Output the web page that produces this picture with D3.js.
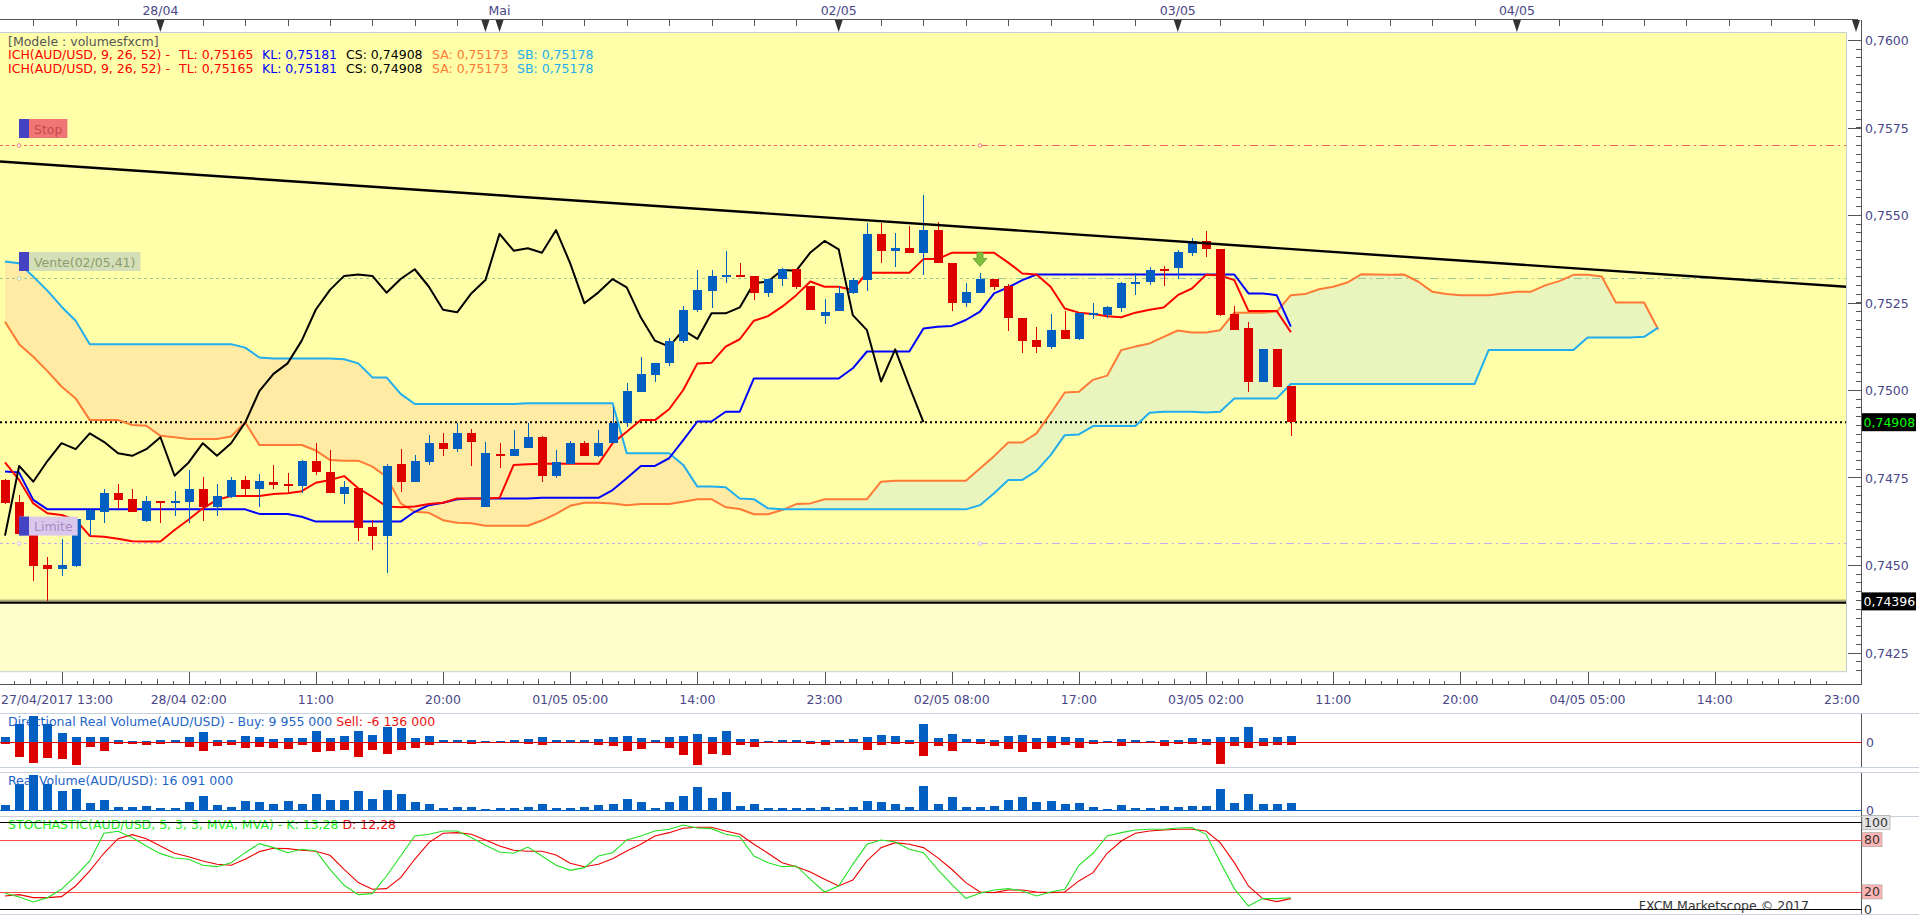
<!DOCTYPE html>
<html>
<head>
<meta charset="utf-8">
<script src="https://cdn.jsdelivr.net/npm/d3@7"></script>
<style>
  body { margin: 0; background: #fff; overflow: hidden; }
  svg { display: block; }
  text { font-family: "DejaVu Sans", sans-serif; font-size: 12.5px; }
</style>
</head>
<body>
<svg id="chart" width="1919" height="916"></svg>
<script>
// ---- candles (hourly, AUD/USD) ----
const open = [0.74743,0.74680,0.74588,0.74499,0.74488,0.74498,0.74630,0.74652,0.74707,0.74689,
  0.74627,0.74683,0.74678,0.74681,0.74717,0.74667,0.74695,0.74743,0.74717,0.74737,
  0.74731,0.74727,0.74797,0.74767,0.74703,0.74720,0.74609,0.74584,0.74788,0.74738,
  0.74795,0.74848,0.74831,0.74876,0.74667,0.74816,0.74812,0.74833,0.74865,0.74755,
  0.74790,0.74848,0.74812,0.74848,0.74907,0.74995,0.75044,0.75076,0.75141,0.75229,
  0.75284,0.75324,0.75330,0.75327,0.75278,0.75317,0.75345,0.75297,0.75212,0.75227,
  0.75276,0.75314,0.75446,0.75398,0.75405,0.75392,0.75457,0.75362,0.75250,0.75278,
  0.75317,0.75297,0.75207,0.75143,0.75124,0.75171,0.75146,0.75215,0.75214,0.75233,
  0.75302,0.75310,0.75345,0.75350,0.75392,0.75427,0.75402,0.75216,0.75176,0.75024,
  0.75116,0.75011];
const high = [0.74745,0.74699,0.74600,0.74524,0.74574,0.74631,0.74662,0.74717,0.74731,0.74717,
  0.74697,0.74683,0.74711,0.74771,0.74752,0.74731,0.74752,0.74754,0.74760,0.74786,
  0.74764,0.74800,0.74850,0.74829,0.74740,0.74720,0.74629,0.74790,0.74831,0.74814,
  0.74871,0.74876,0.74905,0.74888,0.74852,0.74848,0.74886,0.74905,0.74869,0.74829,
  0.74854,0.74854,0.74887,0.74952,0.75019,0.75095,0.75076,0.75150,0.75240,0.75343,
  0.75343,0.75397,0.75362,0.75327,0.75317,0.75348,0.75345,0.75297,0.75260,0.75297,
  0.75319,0.75478,0.75478,0.75450,0.75469,0.75557,0.75481,0.75362,0.75305,0.75333,
  0.75317,0.75303,0.75207,0.75181,0.75217,0.75226,0.75219,0.75250,0.75240,0.75308,
  0.75333,0.75352,0.75354,0.75400,0.75433,0.75454,0.75402,0.75240,0.75193,0.75116,
  0.75116,0.75011];
const low = [0.74674,0.74588,0.74455,0.74396,0.74469,0.74495,0.74583,0.74621,0.74659,0.74652,
  0.74624,0.74621,0.74640,0.74621,0.74627,0.74640,0.74692,0.74697,0.74665,0.74717,
  0.74705,0.74707,0.74757,0.74707,0.74673,0.74570,0.74543,0.74477,0.74710,0.74738,
  0.74786,0.74811,0.74824,0.74783,0.74667,0.74776,0.74812,0.74833,0.74738,0.74750,
  0.74790,0.74812,0.74810,0.74848,0.74895,0.74995,0.75024,0.75070,0.75135,0.75224,
  0.75235,0.75305,0.75322,0.75257,0.75267,0.75297,0.75289,0.75229,0.75189,0.75227,
  0.75273,0.75284,0.75364,0.75352,0.75392,0.75330,0.75362,0.75227,0.75238,0.75278,
  0.75287,0.75170,0.75107,0.75105,0.75116,0.75146,0.75143,0.75202,0.75205,0.75224,
  0.75271,0.75300,0.75297,0.75316,0.75383,0.75381,0.75211,0.75171,0.74995,0.75024,
  0.75010,0.74869];
const close = [0.74678,0.74588,0.74498,0.74488,0.74499,0.74631,0.74657,0.74707,0.74686,0.74652,
  0.74683,0.74678,0.74683,0.74717,0.74667,0.74697,0.74743,0.74717,0.74740,0.74729,
  0.74727,0.74797,0.74767,0.74707,0.74723,0.74607,0.74584,0.74783,0.74738,0.74797,
  0.74848,0.74831,0.74876,0.74852,0.74819,0.74812,0.74831,0.74865,0.74755,0.74793,
  0.74848,0.74812,0.74848,0.74907,0.74997,0.75046,0.75076,0.75141,0.75230,0.75286,
  0.75326,0.75330,0.75326,0.75278,0.75317,0.75345,0.75295,0.75229,0.75222,0.75276,
  0.75314,0.75446,0.75398,0.75405,0.75392,0.75457,0.75362,0.75248,0.75279,0.75317,
  0.75293,0.75207,0.75141,0.75124,0.75171,0.75146,0.75219,0.75219,0.75236,0.75305,
  0.75310,0.75343,0.75341,0.75393,0.75426,0.75402,0.75214,0.75171,0.75024,0.75116,
  0.75010,0.74908];

// ---- ichimoku lines, as read ----
const tenkan = [0.74793,0.74743,0.74676,0.74648,0.74643,0.74629,0.74583,0.74581,0.74575,0.74568,
  0.74567,0.74567,0.74600,0.74630,0.74662,0.74686,0.74697,0.74697,0.74697,0.74703,
  0.74705,0.74711,0.74735,0.74743,0.74754,0.74719,0.74695,0.74667,0.74665,0.74667,
  0.74674,0.74678,0.74690,0.74690,0.74690,0.74692,0.74786,0.74788,0.74789,0.74789,
  0.74789,0.74789,0.74789,0.74848,0.74881,0.74914,0.74914,0.74945,0.75000,0.75076,
  0.75078,0.75124,0.75145,0.75198,0.75211,0.75238,0.75271,0.75310,0.75295,0.75295,
  0.75286,0.75335,0.75335,0.75335,0.75335,0.75374,0.75374,0.75392,0.75392,0.75392,
  0.75392,0.75364,0.75333,0.75330,0.75295,0.75233,0.75221,0.75217,0.75211,0.75208,
  0.75221,0.75229,0.75236,0.75271,0.75290,0.75329,0.75327,0.75314,0.75226,0.75226,
  0.75226,0.75165];
const kijun = [0.74767,0.74764,0.74686,0.74659,0.74659,0.74659,0.74659,0.74659,0.74659,0.74659,
  0.74659,0.74659,0.74659,0.74659,0.74659,0.74659,0.74659,0.74659,0.74646,0.74646,
  0.74646,0.74638,0.74624,0.74624,0.74624,0.74624,0.74624,0.74624,0.74624,0.74652,
  0.74671,0.74678,0.74688,0.74690,0.74690,0.74690,0.74690,0.74690,0.74692,0.74692,
  0.74692,0.74692,0.74692,0.74714,0.74748,0.74783,0.74783,0.74805,0.74857,0.74910,
  0.74910,0.74938,0.74938,0.75033,0.75033,0.75033,0.75033,0.75033,0.75033,0.75033,
  0.75062,0.75110,0.75110,0.75110,0.75110,0.75176,0.75181,0.75183,0.75200,0.75224,
  0.75276,0.75293,0.75314,0.75330,0.75330,0.75330,0.75330,0.75330,0.75330,0.75330,
  0.75330,0.75330,0.75330,0.75330,0.75330,0.75330,0.75330,0.75330,0.75276,0.75276,
  0.75271,0.75181];
const senkouA = [0.75195,0.75131,0.75095,0.75054,0.75010,0.74976,0.74914,0.74914,0.74914,0.74900,
  0.74898,0.74869,0.74865,0.74860,0.74860,0.74860,0.74867,0.74907,0.74843,0.74843,
  0.74843,0.74843,0.74827,0.74800,0.74798,0.74798,0.74781,0.74752,0.74676,0.74652,
  0.74649,0.74628,0.74621,0.74619,0.74612,0.74612,0.74612,0.74612,0.74627,0.74646,
  0.74669,0.74678,0.74678,0.74676,0.74671,0.74674,0.74674,0.74674,0.74681,0.74688,
  0.74688,0.74665,0.74660,0.74645,0.74645,0.74657,0.74674,0.74676,0.74688,0.74688,
  0.74688,0.74688,0.74738,0.74741,0.74741,0.74741,0.74741,0.74741,0.74741,0.74776,
  0.74811,0.74850,0.74850,0.74876,0.74933,0.74993,0.74995,0.75029,0.75041,0.75114,
  0.75124,0.75133,0.75152,0.75170,0.75164,0.75164,0.75171,0.75221,0.75221,0.75221,
  0.75224,0.75271,0.75274,0.75288,0.75295,0.75307,0.75331,0.75330,0.75329,0.75330,
  0.75310,0.75281,0.75274,0.75271,0.75271,0.75271,0.75276,0.75281,0.75281,0.75299,
  0.75311,0.75329,0.75329,0.75324,0.75250,0.75250,0.75250,0.75173];
const senkouB = [0.75367,0.75362,0.75324,0.75284,0.75238,0.75198,0.75131,0.75131,0.75131,0.75131,
  0.75131,0.75131,0.75131,0.75131,0.75131,0.75131,0.75131,0.75121,0.75093,0.75090,
  0.75090,0.75090,0.75090,0.75090,0.75088,0.75076,0.75036,0.75036,0.74989,0.74960,
  0.74960,0.74960,0.74960,0.74960,0.74960,0.74960,0.74960,0.74962,0.74962,0.74962,
  0.74962,0.74962,0.74962,0.74962,0.74819,0.74819,0.74819,0.74819,0.74786,0.74724,
  0.74724,0.74722,0.74690,0.74688,0.74662,0.74659,0.74659,0.74659,0.74659,0.74659,
  0.74659,0.74659,0.74659,0.74659,0.74659,0.74659,0.74659,0.74659,0.74659,0.74671,
  0.74705,0.74743,0.74743,0.74769,0.74814,0.74871,0.74873,0.74897,0.74897,0.74897,
  0.74897,0.74935,0.74938,0.74938,0.74938,0.74936,0.74938,0.74976,0.74976,0.74976,
  0.74976,0.75017,0.75017,0.75017,0.75017,0.75017,0.75017,0.75017,0.75017,0.75017,
  0.75017,0.75017,0.75017,0.75017,0.75017,0.75114,0.75114,0.75114,0.75114,0.75114,
  0.75114,0.75114,0.75150,0.75150,0.75150,0.75150,0.75152,0.75178];
const chikouLag = 26;

// ---- volumes, millions ----
const buyVol = [8.4,29.3,41.4,29.3,14.7,8.4,8.4,8.4,3.7,2.1,2.1,3.7,3.7,8.4,16.2,3.7,3.7,10.0,8.4,5.2,
  6.8,6.8,17.8,6.8,10.0,17.8,11.5,24.1,22.5,6.8,10.0,3.7,3.7,3.7,1.6,1.6,3.7,
  5.2,8.4,3.7,3.7,3.7,5.2,8.4,10.0,6.8,3.7,8.4,10.0,13.1,8.4,17.8,5.2,5.2,1.6,3.7,3.7,
  1.6,3.7,3.7,5.2,8.4,11.5,10.0,3.7,28.8,6.8,13.1,5.2,5.2,3.7,10.0,11.5,6.8,
  10.0,8.4,6.8,3.7,1.6,5.2,3.7,1.6,3.7,3.7,6.8,5.2,8.4,8.4,24.1,6.8,8.4,9.955];
const sellVol = [2.1,22.5,32.0,24.6,25.7,35.6,6.8,13.6,2.1,2.1,3.7,2.1,0.5,6.8,13.6,5.2,3.7,8.4,6.8,8.4,
  10.0,3.7,14.7,13.6,11.5,22.5,11.5,17.8,11.5,8.4,3.7,0,0,2.1,0,0,0,
  2.1,3.7,0,0,0,3.7,5.2,13.1,10.0,0,8.4,19.4,35.1,17.8,19.4,3.7,6.8,0,0,0,
  2.1,3.7,0,0,11.5,3.7,2.1,2.1,21.0,5.2,13.1,0,2.1,5.2,10.0,14.7,10.0,
  8.4,3.7,8.4,2.1,0,5.2,0,0,5.2,2.1,2.1,3.7,33.5,5.2,8.4,5.2,3.7,4.0];
const realVol = [12.3,60.1,80.9,60.1,44.7,49.3,16.9,23.9,7.7,7.7,10.0,5.4,5.4,19.3,33.1,12.3,7.7,21.6,19.3,14.6,
  21.6,14.6,37.7,23.9,23.9,44.7,26.2,47.0,37.7,19.3,14.6,5.4,7.7,7.7,3.1,5.4,5.4,
  7.7,14.6,5.4,5.4,7.7,12.3,14.6,26.2,19.3,5.4,19.3,33.1,53.9,28.5,42.4,10.0,14.6,5.4,5.4,5.4,
  5.4,7.7,5.4,7.7,21.6,19.3,14.6,7.7,56.2,14.6,30.8,7.7,7.7,10.0,23.9,30.8,19.3,
  21.6,14.6,16.9,7.7,3.1,12.3,5.4,5.4,10.0,7.7,10.0,10.0,49.3,16.9,37.7,14.6,14.6,16.091];

// ---- stochastic 5,3,3 ----
const stochK = [18.4,14.2,8.4,13.4,23.0,38.3,55.6,87.4,89.7,82.4,72.8,64.0,59.0,57.5,50.6,49.0,53.6,65.1,75.5,70.9,
  65.1,69.0,67.0,46.0,27.6,16.9,18.0,38.3,61.3,84.3,86.2,90.0,90.0,82.4,73.6,65.9,64.4,
  71.6,61.3,50.6,44.8,47.9,61.3,65.1,79.7,84.3,90.0,92.0,96.9,93.5,92.7,86.2,83.5,61.3,53.6,49.0,49.8,
  34.5,19.9,26.8,51.7,74.7,79.7,77.4,69.0,65.1,46.0,28.7,12.6,18.4,22.2,23.8,21.1,15.3,
  19.9,23.0,50.6,64.4,84.3,88.1,91.2,92.0,92.0,93.5,93.9,86.2,54.4,23.8,3.8,12.3,12.3,13.28];
const stochD = [15.3,16.9,13.4,13.4,14.6,26.8,44.1,64.4,81.2,85.8,81.2,72.8,64.4,60.5,55.6,51.7,50.6,57.5,66.3,70.1,
  69.7,67.8,66.7,62.1,46.0,30.7,23.0,23.8,36.4,57.5,76.6,87.4,88.1,86.2,79.7,72.8,67.8,
  66.7,66.7,62.5,52.9,49.0,51.7,58.2,67.0,74.7,84.3,88.1,93.1,94.3,94.3,90.0,86.2,74.7,64.4,53.6,49.0,
  42.9,34.5,26.8,33.7,55.6,70.9,76.6,74.7,70.9,59.4,46.0,30.7,19.9,19.2,22.2,22.2,19.9,
  19.2,19.9,32.6,42.1,64.4,78.5,87.4,90.0,91.2,92.0,92.0,90.0,76.6,53.6,26.8,12.3,8.8,12.28];

// ---- axes, orders, trendline ----
const priceTicks = [0.7600, 0.7575, 0.7550, 0.7525, 0.7500, 0.7475, 0.7450, 0.7425];
const timeLabels = ["27/04/2017 13:00","28/04 02:00","11:00","20:00","01/05 05:00","14:00","23:00",
  "02/05 08:00","17:00","03/05 02:00","11:00","20:00","04/05 05:00","14:00","23:00"];
const timeLabelBars = [0,13,22,31,40,49,58,67,76,85,94,103,112,121,130];
const dayLabels = ["28/04","Mai","02/05","03/05","04/05"];
const dayBars = [11,35,59,83,107];
const orderNames = ["Stop","Vente(02/05,41)","Limite"];
const orderPrices = [0.75700, 0.75320, 0.74564];
const orderBar = 69;
const trendBars = [-0.35, 130.3];
const trendPrices = [0.75653, 0.75295];
const stochLevels = [100, 80, 20, 0];

// ---------------------------------------------------------------
const svg = d3.select("#chart");
const defs = svg.append("defs");
const fmt = (v, n) => d3.format("." + n + "f")(v).replace(".", ",");

const PR = 1846.5, PT = 32.5, PB = 671.7, AX = 1861.5;
const x = d3.scaleLinear().domain([0, 130]).range([5, 1841.9]);
const y = d3.scaleLinear().domain([0.7425, 0.7600]).range([652.5, 40]);
const yDir = d3.scaleLinear().domain([0, 10]).range([742.3, 735.94]);
const yReal = d3.scaleLinear().domain([0, 10]).range([810.3, 805.97]);
const yStoch = d3.scaleLinear().domain([0, 100]).range([909.3, 822.3]);

const blue = "#005FC0", red = "#DD0000";
const axisText = "#4A4788";

// backgrounds
svg.append("rect").attr("width", 1919).attr("height", 916).attr("fill", "#fff");
svg.append("rect").attr("x", 0).attr("y", PT).attr("width", PR).attr("height", PB - PT).attr("fill", "#FFFFAA");
const lowY = y(d3.min(low));
svg.append("rect").attr("x", 0).attr("y", lowY).attr("width", PR).attr("height", PB - lowY).attr("fill", "#FFFFCC");

defs.append("clipPath").attr("id", "plot")
  .append("rect").attr("x", 0).attr("y", PT).attr("width", PR).attr("height", PB - PT);
const g = svg.append("g").attr("clip-path", "url(#plot)");

// cloud
const idx = d3.range(senkouA.length);
const areaTo = (arr, edge) => d3.area().x(i => x(i)).y0(edge).y1(i => y(arr[i]))(idx);
defs.append("clipPath").attr("id", "belowA").append("path").attr("d", areaTo(senkouA, 916));
defs.append("clipPath").attr("id", "belowB").append("path").attr("d", areaTo(senkouB, 916));
g.append("path").attr("d", areaTo(senkouB, 0)).attr("fill", "#EAF5BE").attr("clip-path", "url(#belowA)");
g.append("path").attr("d", areaTo(senkouA, 0)).attr("fill", "#FFEBA3").attr("clip-path", "url(#belowB)");

// order lines
const orderColors = ["#F06060", "#9CC894", "#CCA6EE"];
const xo = x(orderBar);
orderPrices.forEach((p, k) => {
  const yy = Math.round(y(p)) + 0.5;
  g.append("line").attr("x1", 0).attr("x2", xo).attr("y1", yy).attr("y2", yy)
    .attr("stroke", orderColors[k]).attr("stroke-dasharray", "3,3");
  g.append("line").attr("x1", xo).attr("x2", PR).attr("y1", yy).attr("y2", yy)
    .attr("stroke", orderColors[k]).attr("stroke-dasharray", "8,4,2,4");
  [19, xo].forEach(cx => g.append("circle").attr("cx", cx).attr("cy", yy).attr("r", 1.8)
    .attr("fill", "#fff").attr("stroke", orderColors[k]).attr("stroke-width", 0.8));
});

// current price and lowest low
g.append("line").attr("x1", 0).attr("x2", PR).attr("y1", y(close[close.length - 1])).attr("y2", y(close[close.length - 1]))
  .attr("stroke", "#000").attr("stroke-width", 2).attr("stroke-dasharray", "2,3");
g.append("line").attr("x1", 0).attr("x2", PR).attr("y1", lowY - 1.2).attr("y2", lowY - 1.2)
  .attr("stroke", "#8A8A60").attr("stroke-width", 1);
g.append("line").attr("x1", 0).attr("x2", PR).attr("y1", lowY + 1.2).attr("y2", lowY + 1.2)
  .attr("stroke", "#000").attr("stroke-width", 2.4);

// ichimoku lines
const line = d3.line().x((d, i) => x(i)).y(d => y(d));
const drawLine = (arr, color, w) => g.append("path").attr("d", line(arr)).attr("fill", "none")
  .attr("stroke", color).attr("stroke-width", w).attr("stroke-linejoin", "round");
drawLine(senkouA, "#FF7A35", 2);
drawLine(senkouB, "#22AEEE", 2);
drawLine(kijun, "#0000FF", 2);
drawLine(tenkan, "#FF0000", 2);
const chikou = d3.range(close.length - chikouLag).map(i => close[i + chikouLag]);
drawLine(chikou, "#000", 2);

// candles
const cg = g.append("g").attr("shape-rendering", "crispEdges");
close.forEach((c, i) => {
  const col = c >= open[i] ? blue : red;
  const cx = Math.round(x(i)) + 0.5;
  cg.append("line").attr("x1", cx).attr("x2", cx).attr("y1", y(high[i])).attr("y2", y(low[i]))
    .attr("stroke", col);
  const top = y(Math.max(open[i], c)), bot = y(Math.min(open[i], c));
  cg.append("rect").attr("x", cx - 4.5).attr("width", 9).attr("y", top)
    .attr("height", Math.max(bot - top, 2)).attr("fill", col);
});

// trendline
g.append("line").attr("x1", x(trendBars[0])).attr("y1", y(trendPrices[0]))
  .attr("x2", x(trendBars[1])).attr("y2", y(trendPrices[1]))
  .attr("stroke", "#000").attr("stroke-width", 2.4);

// sell signal arrow
const ay = y(high[orderBar]) - 21, ax = x(orderBar);
g.append("path")
  .attr("d", `M${ax - 3},${ay} h6 v6 h4 l-7,8 l-7,-8 h4 Z`)
  .attr("fill", "#7DBE3C").attr("stroke", "#5E9A2A").attr("stroke-width", 0.8);

// order labels
const orderFill = ["#F07676", "#D4DFB8", "#DAC8EC"];
const orderText = ["#C84A4A", "#8C9C6C", "#A78BC4"];
orderPrices.forEach((p, k) => {
  const yy = y(p) - 26;
  const lg = svg.append("g");
  const t = lg.append("text").attr("x", 34).attr("y", yy + 14.5).attr("fill", orderText[k]).text(orderNames[k]);
  const w = t.node().getComputedTextLength();
  lg.insert("rect", "text").attr("x", 19).attr("y", yy).attr("width", w + 20).attr("height", 19).attr("fill", orderFill[k]);
  lg.insert("rect", "text").attr("x", 19).attr("y", yy).attr("width", 10).attr("height", 19).attr("fill", "#4343C4");
});

// legend
svg.append("text").attr("x", 8).attr("y", 45.5).attr("fill", "#555").text("[Modele : volumesfxcm]");
const legendParts = [
  ["ICH(AUD/USD, 9, 26, 52) -", "#FF0000", 8],
  ["TL: " + fmt(tenkan[tenkan.length - 1], 5), "#FF0000", 179],
  ["KL: " + fmt(kijun[kijun.length - 1], 5), "#0000FF", 262],
  ["CS: " + fmt(close[close.length - 1], 5), "#000", 346],
  ["SA: " + fmt(senkouA[senkouA.length - 1], 5), "#FF7A35", 432],
  ["SB: " + fmt(senkouB[senkouB.length - 1], 5), "#22AEEE", 517]
];
[58.5, 72.5].forEach(by => legendParts.forEach(([t, c, lx]) =>
  svg.append("text").attr("x", lx).attr("y", by).attr("fill", c).text(t)));

// plot border
svg.append("line").attr("x1", 0).attr("x2", PR).attr("y1", PT).attr("y2", PT).attr("stroke", "#C4CED8");
svg.append("line").attr("x1", PR).attr("x2", PR).attr("y1", PT).attr("y2", PB).attr("stroke", "#C4CED8");
svg.append("line").attr("x1", 0).attr("x2", PR).attr("y1", PB).attr("y2", PB).attr("stroke", "#C4CED8");

// top time axis
const ax1 = svg.append("g").attr("shape-rendering", "crispEdges");
ax1.append("line").attr("x1", 0).attr("x2", 1858).attr("y1", 19.5).attr("y2", 19.5).attr("stroke", "#555");
d3.range(2, 131, 3).forEach(b => ax1.append("line").attr("x1", Math.round(x(b)) + 0.5).attr("x2", Math.round(x(b)) + 0.5)
  .attr("y1", 19.5).attr("y2", 25.5).attr("stroke", "#555"));
dayBars.concat([34, 131]).forEach(b => svg.append("path")
  .attr("d", `M${x(b) - 4},20 L${x(b) + 4},20 L${x(b)},32 Z`).attr("fill", "#333"));
dayLabels.forEach((t, k) => svg.append("text").attr("x", x(dayBars[k])).attr("y", 14.5)
  .attr("text-anchor", "middle").attr("fill", axisText).text(t));

// right price axis
const ax2 = svg.append("g").attr("shape-rendering", "crispEdges");
ax2.append("line").attr("x1", AX).attr("x2", AX).attr("y1", 19.5).attr("y2", 684.5).attr("stroke", "#555");
d3.range(0, 80).map(k => 0.7415 + k * 0.00025).filter(p => y(p) > PT && y(p) < PB)
  .forEach(p => ax2.append("line").attr("x1", AX - 6).attr("x2", AX).attr("y1", Math.round(y(p)) + 0.5)
    .attr("y2", Math.round(y(p)) + 0.5).attr("stroke", "#555"));
priceTicks.forEach(p => {
  ax2.append("line").attr("x1", AX - 14).attr("x2", AX).attr("y1", Math.round(y(p)) + 0.5)
    .attr("y2", Math.round(y(p)) + 0.5).attr("stroke", "#555");
  svg.append("text").attr("x", 1865).attr("y", y(p) + 5).attr("fill", axisText).text(fmt(p, 4));
});
[[close[close.length - 1], "#00FF00"], [d3.min(low), "#fff"]].forEach(([p, tc]) => {
  svg.append("rect").attr("x", 1862).attr("y", y(p) - 9).attr("width", 54).attr("height", 18).attr("fill", "#000");
  svg.append("text").attr("x", 1863.5).attr("y", y(p) + 4.8).attr("fill", tc).text(fmt(p, 5));
});

// bottom time axis
const ax3 = svg.append("g").attr("shape-rendering", "crispEdges");
ax3.append("line").attr("x1", 0).attr("x2", AX).attr("y1", 684.5).attr("y2", 684.5).attr("stroke", "#555");
d3.range(0, 120).forEach(k => {
  const b = -5 + k * 9 / 8, xx = Math.round(x(b)) + 0.5;
  if (xx < 0 || xx > PR) return;
  const hgt = k % 8 === 0 ? 13 : (k % 2 === 0 ? 6 : 3.5);
  ax3.append("line").attr("x1", xx).attr("x2", xx).attr("y1", 684.5 - hgt).attr("y2", 684.5).attr("stroke", "#555");
});
timeLabels.forEach((t, k) => svg.append("text")
  .attr("x", k === 0 ? 1 : x(timeLabelBars[k])).attr("y", 703.5)
  .attr("text-anchor", k === 0 ? "start" : "middle").attr("fill", axisText).text(t));

// panel separators
[713.5, 767.5, 772.5, 816.5, 914.5].forEach(yy => svg.append("line").attr("x1", 0).attr("x2", 1919)
  .attr("y1", yy).attr("y2", yy).attr("stroke", "#C8D2DC").attr("shape-rendering", "crispEdges"));
[[714, 767], [773, 816], [817, 914]].forEach(([a, b]) => svg.append("line").attr("x1", AX).attr("x2", AX)
  .attr("y1", a).attr("y2", b).attr("stroke", "#555").attr("shape-rendering", "crispEdges"));

// directional real volume
const dvText = svg.append("text").attr("x", 8).attr("y", 726);
dvText.append("tspan").attr("fill", "#1E64C8").text("Directional Real Volume(AUD/USD) -  Buy: 9 955 000  ");
dvText.append("tspan").attr("fill", "#EE1111").text("Sell: -6 136 000");
const vg = svg.append("g").attr("shape-rendering", "crispEdges");
buyVol.forEach((v, i) => vg.append("rect").attr("x", Math.round(x(i)) - 4).attr("width", 9)
  .attr("y", yDir(v)).attr("height", yDir(0) - yDir(v)).attr("fill", blue));
sellVol.forEach((v, i) => vg.append("rect").attr("x", Math.round(x(i)) - 4).attr("width", 9)
  .attr("y", yDir(0)).attr("height", yDir(0) - yDir(v)).attr("fill", red));
vg.append("line").attr("x1", 0).attr("x2", AX).attr("y1", yDir(0)).attr("y2", yDir(0)).attr("stroke", "#E00000");
svg.append("text").attr("x", 1866).attr("y", yDir(0) + 4.5).attr("fill", axisText).text("0");

// real volume
svg.append("text").attr("x", 8).attr("y", 784.5).attr("fill", "#1E64C8").text("Real Volume(AUD/USD): 16 091 000");
realVol.forEach((v, i) => vg.append("rect").attr("x", Math.round(x(i)) - 4).attr("width", 9)
  .attr("y", yReal(v)).attr("height", yReal(0) - yReal(v)).attr("fill", blue));
vg.append("line").attr("x1", 0).attr("x2", AX).attr("y1", yReal(0)).attr("y2", yReal(0)).attr("stroke", blue).attr("stroke-width", 1.5);
svg.append("text").attr("x", 1866).attr("y", yReal(0) + 4.5).attr("fill", axisText).text("0");

// stochastic
const stText = svg.append("text").attr("x", 8).attr("y", 829);
stText.append("tspan").attr("fill", "#22EE22").text("STOCHASTIC(AUD/USD, 5, 3, 3, MVA, MVA) -  K: " + fmt(stochK[stochK.length - 1], 2) + "  ");
stText.append("tspan").attr("fill", "#EE1111").text("D: " + fmt(stochD[stochD.length - 1], 2));
const levelColor = ["#000", "#FF4A4A", "#FF4A4A", "#000"];
stochLevels.forEach((lv, k) => svg.append("line").attr("x1", 0).attr("x2", AX).attr("y1", Math.round(yStoch(lv)) + 0.5)
  .attr("y2", Math.round(yStoch(lv)) + 0.5).attr("stroke", levelColor[k]).attr("shape-rendering", "crispEdges"));
const sline = d3.line().x((d, i) => x(i)).y(d => yStoch(d));
svg.append("path").attr("d", sline(stochD)).attr("fill", "none").attr("stroke", "#EE0000").attr("stroke-width", 1.1);
svg.append("path").attr("d", sline(stochK)).attr("fill", "none").attr("stroke", "#22E022").attr("stroke-width", 1.1);
const levelBox = ["#E4E4E4", "#FFB4B4", "#FFB4B4", null];
stochLevels.forEach((lv, k) => {
  const t = String(lv);
  if (levelBox[k]) svg.append("rect").attr("x", 1862).attr("y", yStoch(lv) - 7).attr("width", t.length * 8 + 4)
    .attr("height", 14).attr("fill", levelBox[k]).attr("stroke", "#999").attr("stroke-width", 0.6);
  svg.append("text").attr("x", 1864).attr("y", yStoch(lv) + 4.5).attr("fill", "#333").text(t);
});
svg.append("text").attr("x", 1809).attr("y", 910).attr("text-anchor", "end").attr("fill", "#333")
  .text("FXCM Marketscope © 2017");
</script>
</body>
</html>
